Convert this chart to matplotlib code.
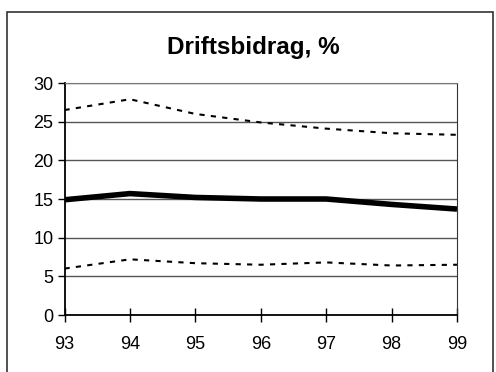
import matplotlib
matplotlib.use("Agg")
import matplotlib.pyplot as plt
from matplotlib.patches import Rectangle

plt.rcParams['font.family'] = ['Liberation Sans', 'DejaVu Sans']

years = ["93", "94", "95", "96", "97", "98", "99"]
upper = [26.5, 27.9, 26.0, 24.9, 24.1, 23.5, 23.3]
median = [14.9, 15.7, 15.2, 15.0, 15.0, 14.3, 13.7]
lower = [6.0, 7.2, 6.7, 6.5, 6.8, 6.4, 6.5]
yticks = [0, 5, 10, 15, 20, 25, 30]

W, H = 496, 372
fig = plt.figure(figsize=(W / 100, H / 100), dpi=100)
fig.patch.set_facecolor('white')

# outer frame
fig.patches.append(Rectangle((7 / W, -0.01), 486 / W, 1 - 12 / H + 0.01,
                             transform=fig.transFigure, fill=False,
                             edgecolor='#333333', linewidth=1.2))

ax = fig.add_axes([64.5 / W, 1 - 315 / H, (457 - 64.5) / W, (315 - 83) / H])
x = list(range(len(years)))
ax.plot(x, upper, color='black', linestyle=(0, (2.5, 3)), linewidth=1.5)
ax.plot(x, median, color='black', linewidth=4, solid_capstyle='butt')
ax.plot(x, lower, color='black', linestyle=(0, (2.5, 3)), linewidth=1.5)

ax.set_xlim(0, len(years) - 1)
ax.set_ylim(0, 30)
ax.set_yticks(yticks)
ax.set_xticks(x)
ax.set_xticklabels(years)
ax.yaxis.grid(True, color='#555555', linewidth=1)
ax.set_axisbelow(True)
ax.spines['top'].set_color('#777777')
ax.spines['right'].set_color('#333333')
ax.spines['left'].set_linewidth(1.3)
ax.spines['bottom'].set_linewidth(1.3)
ax.tick_params(axis='y', direction='out', length=5, width=1, labelsize=13, pad=3)
ax.tick_params(axis='x', direction='inout', length=10, width=1, labelsize=13, pad=10)

fig.text(253 / W, 1 - 54 / H, "Driftsbidrag, %", ha='center', va='baseline',
         fontsize=17.5, fontweight='bold')

fig.savefig("out.png", dpi=100)
